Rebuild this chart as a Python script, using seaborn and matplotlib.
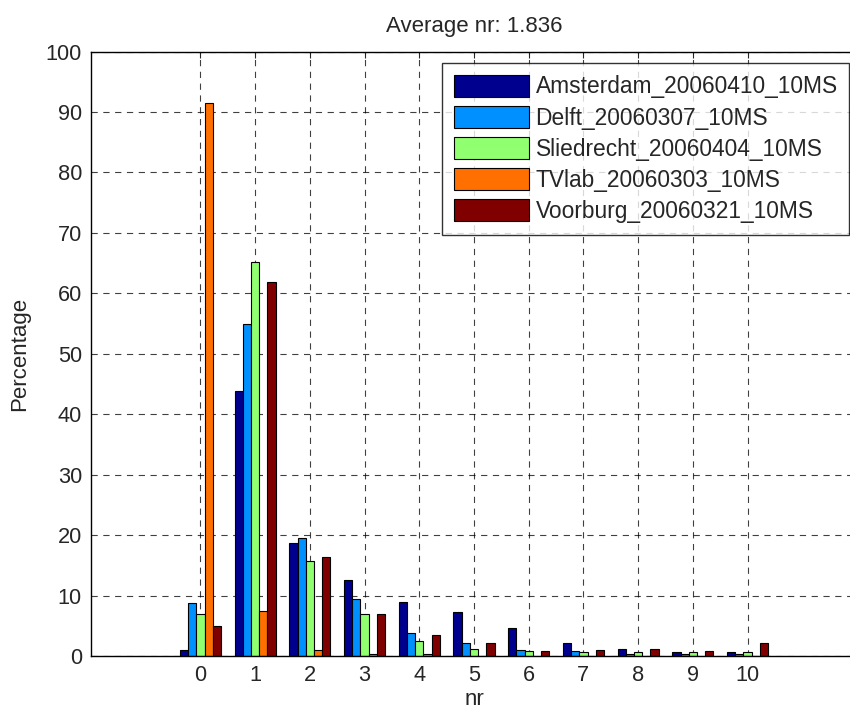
import pandas as pd
import matplotlib
matplotlib.use('Agg')
import matplotlib.pyplot as plt
import seaborn as sns

nr = list(range(0, 11))
series_names = ['Amsterdam_20060410_10MS', 'Delft_20060307_10MS', 'Sliedrecht_20060404_10MS',
                'TVlab_20060303_10MS', 'Voorburg_20060321_10MS']
amsterdam = [1.0, 43.8, 18.7, 12.5, 9.0, 7.2, 4.6, 2.1, 1.2, 0.6, 0.6]
delft = [8.7, 55.0, 19.5, 9.5, 3.8, 2.2, 1.0, 0.9, 0.3, 0.3, 0.3]
sliedrecht = [7.0, 65.2, 15.7, 7.0, 2.4, 1.2, 0.9, 0.7, 0.6, 0.6, 0.6]
tvlab = [91.5, 7.5, 1.0, 0.3, 0.3, 0.0, 0.0, 0.0, 0.0, 0.0, 0.0]
voorburg = [4.9, 61.9, 16.3, 7.0, 3.5, 2.1, 0.9, 1.0, 1.2, 0.9, 2.1]
colors = ['#00008F', '#0090FF', '#90FF70', '#FF7000', '#800000']

rows = []
for name, vals in zip(series_names, [amsterdam, delft, sliedrecht, tvlab, voorburg]):
    for n, v in zip(nr, vals):
        rows.append({'nr': n, 'Percentage': v, 'set': name})
df = pd.DataFrame(rows)

sns.set_style("white")
plt.rcParams['font.family'] = ['Liberation Sans', 'DejaVu Sans']
plt.rcParams['lines.scale_dashes'] = False

fig = plt.figure(figsize=(8.5, 7.1), dpi=100)
# axes runs a bit past the right edge of the picture, like the original
ax = fig.add_axes([91 / 850, 1 - 656 / 710, 766 / 850, 604.5 / 710])
sns.barplot(data=df, x='nr', y='Percentage', hue='set', palette=colors, width=0.75,
            edgecolor='black', linewidth=0.8, saturation=1, ax=ax, errorbar=None)

ax.set_xlim(-2, 12)
ax.set_ylim(0, 100)
ax.set_yticks(range(0, 101, 10))
ax.set_axisbelow(True)
ax.grid(True, color='black', linestyle=(0, (4.5, 4)), linewidth=0.8, alpha=0.75)
for s in ax.spines.values():
    s.set_visible(True)
    s.set_color('black')
    s.set_linewidth(1.0)
ax.tick_params(direction='in', top=True, right=True, length=4, labelsize=15.7, pad=6.5)
ax.set_xlabel('nr', fontsize=16, labelpad=2)
ax.set_ylabel('Percentage', fontsize=16, labelpad=11)
ax.set_title('Average nr: 1.836', fontsize=16, pad=14)

leg = ax.legend(loc='upper right', bbox_to_anchor=(0.9896, 0.9805), borderaxespad=0,
                fontsize=16.4, frameon=True, fancybox=False, edgecolor='black',
                handlelength=3.3, handleheight=1.1, labelspacing=0.33,
                handletextpad=0.3, borderpad=0.5)
leg.get_frame().set_linewidth(1.0)

fig.savefig('out.png', dpi=100)
